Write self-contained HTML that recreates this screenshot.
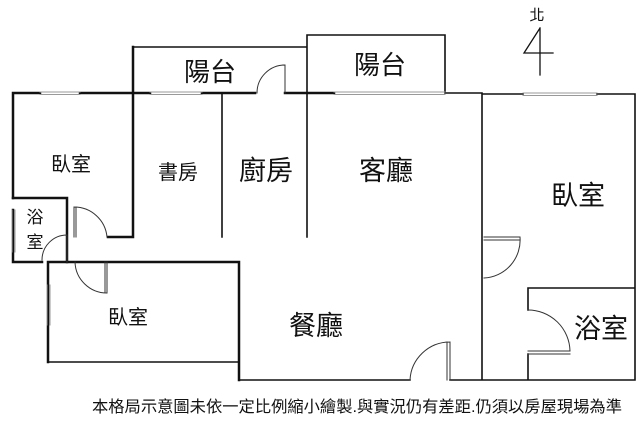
<!DOCTYPE html>
<html><head><meta charset="utf-8"><style>
html,body{margin:0;padding:0;background:#fff;width:640px;height:422px;overflow:hidden}
svg{display:block}
text{font-family:"Liberation Sans","Noto Sans CJK TC",sans-serif;fill:#111}
</style></head><body>
<svg width="640" height="422" viewBox="0 0 640 422" xmlns="http://www.w3.org/2000/svg">
<g fill="none" stroke="#111" stroke-linecap="square">
<g stroke-width="2.5">
<path d="M13 93 V198 M133 47 V237 H108 M48 262 H239 V380 M48 262 V362 M13 93 H40 M80 93 H150 M202 93 H255 M285 93 H334"/>
<path d="M67 198 V262 M13 198 H67 M13 210 V262 H42"/>
</g>
<g stroke-width="1.6">
<path d="M48 362 H239 M133 47 H307 M307 35 H445 V93 M307 35 V237 M222 93 V237 M239 380 H410 M450 380 H482 V237 M482 283 V380 H635 V94 H597 M523 94 H482 V237 M445 93 H482 M528 288 H635 M528 288 V310 M528 354 V380"/>
</g>
<g stroke="#999" stroke-width="1">
<path d="M40 92 H80 M40 94.5 H80 M150 92 H202 M150 94.5 H202 M334 92 H445 M334 94.5 H445 M523 93 H597 M523 95.5 H597 M47 285 V325 M50 285 V325 M12 210 V252 M15 210 V252"/>
</g>
<g stroke="#333" stroke-width="1">
<path d="M285 65 V93 M283 65 H285 M285 65 A28 28 0 0 0 257 93"/>
<path d="M74 207 V237 M76 207 V237 M74 207 A33 33 0 0 1 107 237"/>
<path d="M67 235 V262 M67 235 A25 25 0 0 0 42 260"/>
<path d="M107 262 V293 M105 262 V293 M107 293 A32 32 0 0 1 75 262"/>
<path d="M450 342 V380 M447 342 V380 M450 342 A40 40 0 0 0 410 380"/>
<path d="M484 237 H520 M484 240 H520 M520 237 A38 38 0 0 1 484 278"/>
<path d="M528 351 H570 M528 354 H570 M528 310 A42 42 0 0 1 570 351"/>
</g>
<path d="M540 28 V75 M540 28 L524 53 H553" stroke-width="1.3"/>
</g>
<g text-anchor="middle">
<text x="537" y="20" font-size="15">北</text>
<text x="210" y="81" font-size="26">陽台</text>
<text x="380" y="74" font-size="26">陽台</text>
<text x="71" y="171" font-size="20">臥室</text>
<text x="178" y="179" font-size="20">書房</text>
<text x="266" y="180" font-size="27">廚房</text>
<text x="386" y="180" font-size="27">客廳</text>
<text x="578" y="205" font-size="27">臥室</text>
<text x="35" y="223" font-size="17">浴</text>
<text x="35" y="248" font-size="17">室</text>
<text x="128" y="324" font-size="20">臥室</text>
<text x="316" y="335" font-size="27">餐廳</text>
<text x="601" y="338" font-size="27">浴室</text>
</g>
<text x="92" y="412" font-size="16" textLength="530" lengthAdjust="spacingAndGlyphs">本格局示意圖未依一定比例縮小繪製.與實況仍有差距.仍須以房屋現場為準</text>
</svg>
</body></html>
